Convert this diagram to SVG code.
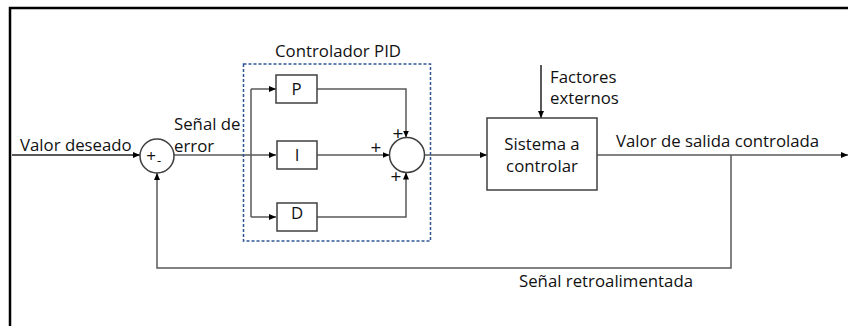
<svg xmlns="http://www.w3.org/2000/svg" width="848" height="326" viewBox="0 0 848 326">
<defs>
<marker id="ah" markerWidth="7" markerHeight="6" refX="7" refY="3" orient="auto" markerUnits="userSpaceOnUse">
<path d="M0,0 L7,3 L0,6 Z" fill="#000"/>
</marker>
<style>
.t{font-family:"Open Sans","Liberation Sans",sans-serif;font-size:16.8px;fill:#111}
.s{font-family:"Open Sans","Liberation Sans",sans-serif;font-size:19px;fill:#111}
.c{fill:none;stroke:#595959;stroke-width:1.5}
.b{fill:#fff;stroke:#404040;stroke-width:1.5}
.a{marker-end:url(#ah)}
</style>
</defs>
<rect width="848" height="326" fill="#fff"/>
<path d="M10,326 V8 H848" fill="none" stroke="#000" stroke-width="2.5"/>

<g id="connectors">
<line class="c a" x1="12" y1="155" x2="140" y2="155" style="stroke:#222"/>
<line class="c" x1="174" y1="155" x2="251" y2="155"/>
<path class="c" d="M251,89 V217"/>
<path class="c a" d="M251,89 H276"/>
<path class="c a" d="M251,155 H276"/>
<path class="c a" d="M251,217 H276"/>
<path class="c a" d="M317,89 H406 V137.5"/>
<path class="c a" d="M317,155 H389.5"/>
<path class="c a" d="M317,217 H406 V172.5"/>
<path class="c a" d="M424.5,155 H487"/>
<path class="c a" d="M541,65 V118" style="stroke:#222"/>
<path class="c a" d="M597,155 H848"/>
<path class="c a" d="M731,155 V268 H157 V173"/>
</g>

<g id="sum1">
<circle class="b" cx="157" cy="156" r="17"/>
<text class="s" x="151" y="161.5" text-anchor="middle" style="font-size:17px">+</text>
<text class="t" x="159" y="165" text-anchor="middle" style="font-size:13px">-</text>
</g>

<g id="pid">
<rect x="243.5" y="64" width="187" height="177" fill="none" stroke="#2F5597" stroke-width="1.5" stroke-dasharray="3 2"/>
<text class="t" x="338" y="57" text-anchor="middle">Controlador PID</text>
</g>

<g id="p">
<rect class="b" x="276" y="75" width="41" height="28"/>
<text class="t" x="296.5" y="95" text-anchor="middle">P</text>
</g>
<g id="i">
<rect class="b" x="277" y="141" width="40" height="28"/>
<text class="t" x="297" y="161" text-anchor="middle">I</text>
</g>
<g id="d">
<rect class="b" x="277" y="203" width="40" height="28"/>
<text class="t" x="297" y="219" text-anchor="middle">D</text>
</g>

<g id="sum2">
<circle class="b" cx="407" cy="155" r="17.5"/>
<text class="s" x="398" y="139.5" text-anchor="middle">+</text>
<text class="s" x="376" y="154" text-anchor="middle">+</text>
<text class="s" x="396" y="183" text-anchor="middle">+</text>
</g>

<g id="sistema">
<rect class="b" x="487" y="118" width="110" height="72"/>
<text class="t" x="542" y="150" text-anchor="middle">Sistema a</text>
<text class="t" x="542" y="172" text-anchor="middle">controlar</text>
</g>

<g id="labels">
<text class="t" x="20" y="151">Valor deseado</text>
<text class="t" x="174" y="130">Señal de</text>
<text class="t" x="174" y="152">error</text>
<text class="t" x="550" y="83">Factores</text>
<text class="t" x="550" y="104">externos</text>
<text class="t" x="616" y="147">Valor de salida controlada</text>
<text class="t" x="519" y="287">Señal retroalimentada</text>
</g>
</svg>
